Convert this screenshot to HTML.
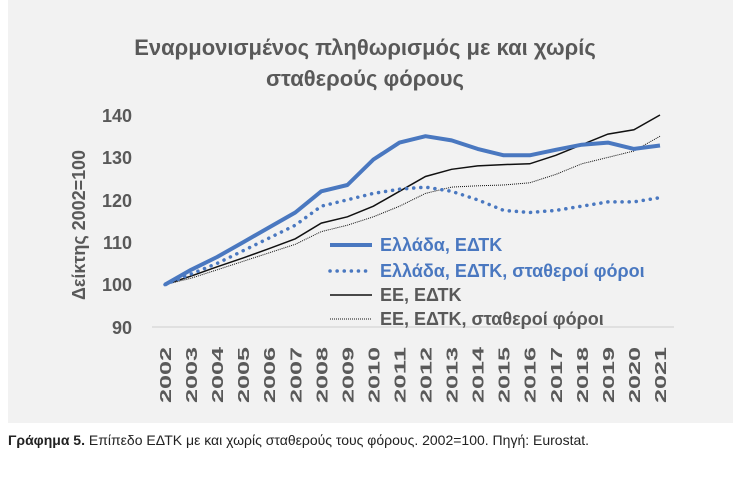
<!DOCTYPE html>
<html><head><meta charset="utf-8"><style>
body{margin:0;background:#fff;width:748px;height:498px;overflow:hidden;font-family:"Liberation Sans","DejaVu Sans",sans-serif}
</style></head><body>
<svg width="748" height="498" xmlns="http://www.w3.org/2000/svg" style="position:absolute;left:0;top:0">
<rect x="8" y="0" width="725" height="423" fill="#f2f2f2"/>
<g font-family="Liberation Sans, DejaVu Sans, sans-serif" fill="#595959">
<text x="365" y="55" font-size="22" font-weight="bold" text-anchor="middle">Εναρμονισμένος πληθωρισμός με και χωρίς</text>
<text x="365" y="86" font-size="22" font-weight="bold" text-anchor="middle">σταθερούς φόρους</text>
<g font-size="18" font-weight="bold" text-anchor="end">
<text x="132" y="122">140</text><text x="132" y="164">130</text><text x="132" y="207">120</text>
<text x="132" y="249">110</text><text x="132" y="291">100</text><text x="132" y="334">90</text>
</g>
<text transform="translate(85,225) rotate(-90)" font-size="18" font-weight="bold" text-anchor="middle" textLength="150" lengthAdjust="spacingAndGlyphs">Δείκτης 2002=100</text>
<g font-size="16" font-weight="bold" id="yrs"></g>
</g>
<line x1="152" y1="327" x2="674" y2="327" stroke="#d9d9d9" stroke-width="1.5"/>
<g id="lines"></g>
<g font-family="Liberation Sans, DejaVu Sans, sans-serif" font-size="18" font-weight="bold">
<line x1="330" y1="245" x2="372" y2="245" stroke="#4a78c0" stroke-width="4"/>
<text x="380" y="251" fill="#4a78c0">Ελλάδα, ΕΔΤΚ</text>
<line x1="330" y1="271" x2="372" y2="271" stroke="#4a78c0" stroke-width="3.5" stroke-dasharray="0.1 7" stroke-linecap="round"/>
<text x="380" y="277" fill="#4a78c0">Ελλάδα, ΕΔΤΚ, σταθεροί φόροι</text>
<line x1="330" y1="295" x2="372" y2="295" stroke="#111" stroke-width="1.5"/>
<text x="380" y="301" fill="#595959">ΕΕ, ΕΔΤΚ</text>
<line x1="330" y1="319" x2="372" y2="319" stroke="#111" stroke-width="1" stroke-dasharray="1 1"/>
<text x="380" y="325" fill="#595959">ΕΕ, ΕΔΤΚ, σταθεροί φόροι</text>
</g>
<text x="8" y="445" font-family="Liberation Sans, DejaVu Sans, sans-serif" font-size="14" fill="#222"><tspan font-weight="bold">Γράφημα 5.</tspan> Επίπεδο ΕΔΤΚ με και χωρίς σταθερούς τους φόρους. 2002=100. Πηγή: Eurostat.</text>
</svg>
<script>
const X=i=>165+i*26.05, Y=v=>327-(v-90)*4.24;
const d={
g:[100,103.5,106.5,110,113.5,117,122,123.5,129.5,133.5,135,134,132,130.5,130.5,131.8,133,133.5,132,132.8],
gc:[100,102.5,105,108,111,114,118.5,120,121.5,122.5,123,122,120,117.5,117,117.5,118.5,119.5,119.5,120.5],
e:[100,102,104.2,106.3,108.5,110.8,114.5,116,118.5,122,125.5,127.2,128,128.3,128.5,130.5,133,135.5,136.5,140],
ec:[100,101.5,103.5,105.5,107.5,109.5,112.5,114,116,118.5,121.5,123,123.3,123.5,124,126,128.5,130,131.5,135]};
const pts=a=>a.map((v,i)=>X(i).toFixed(1)+","+Y(v).toFixed(1)).join(" ");
let s="";
s+=`<polyline points="${pts(d.ec)}" fill="none" stroke="#111" stroke-width="1" stroke-dasharray="1 1"/>`;
s+=`<polyline points="${pts(d.e)}" fill="none" stroke="#111" stroke-width="1.5"/>`;
s+=`<polyline points="${pts(d.gc)}" fill="none" stroke="#4a78c0" stroke-width="3.5" stroke-dasharray="0.1 7" stroke-linecap="round"/>`;
s+=`<polyline points="${pts(d.g)}" fill="none" stroke="#4a78c0" stroke-width="4" stroke-linejoin="round"/>`;
document.getElementById("lines").innerHTML=s;
let y="";
for(let i=0;i<20;i++){y+=`<text transform="translate(${X(i)+6},${403}) rotate(-90)" textLength="56" lengthAdjust="spacingAndGlyphs">${2002+i}</text>`;}
document.getElementById("yrs").innerHTML=y;
</script>
</body></html>
